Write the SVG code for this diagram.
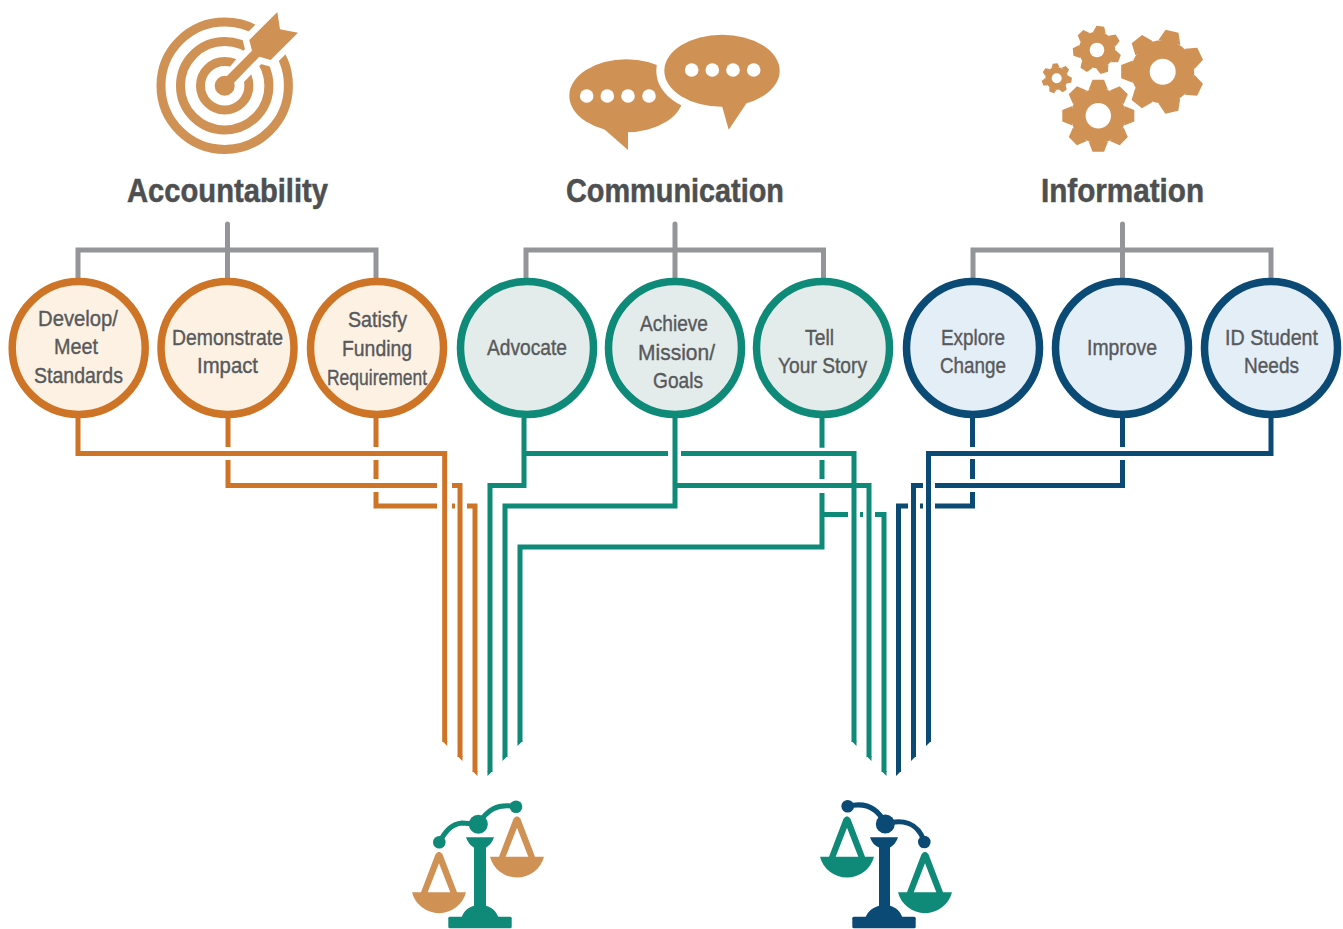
<svg xmlns="http://www.w3.org/2000/svg" xmlns:xlink="http://www.w3.org/1999/xlink" width="1343" height="929" viewBox="0 0 1343 929">
<style>
text{font-family:"Liberation Sans Narrow","Liberation Sans",Arial,sans-serif;text-anchor:middle}
.title{font-size:33px;font-weight:700;fill:#4d4f51;stroke:#4d4f51;stroke-width:.5}
.lab{font-size:22.5px;fill:#58595b;stroke:#58595b;stroke-width:.4}
.br{fill:none;stroke:#939598;stroke-width:5;stroke-linecap:round}
.c{fill:none;stroke-width:5}
.or{stroke:#ce7426}.te{stroke:#0f8a78}.bl{stroke:#0a4a75}
.n{stroke-width:7.5}
.nor{fill:#fdf1e3;stroke:#ce7426}.nte{fill:#e3ecea;stroke:#0f8a78}.nbl{fill:#e4eef7;stroke:#0a4a75}
.tan{fill:#d09155}.w{fill:#fff}
.fo{fill:#ce7426}.ft{fill:#0f8a78}.fb{fill:#0a4a75}
.ring{fill:none;stroke:#d09155;stroke-width:9}
</style>
<defs>
<path id="tooth" d="M-.27-.72L-.16-1H.16L.27-.72Z"/>
<g id="g7"><circle r=".76"/><use href="#tooth"/><use href="#tooth" transform="rotate(51.43)"/><use href="#tooth" transform="rotate(102.86)"/><use href="#tooth" transform="rotate(154.29)"/><use href="#tooth" transform="rotate(205.71)"/><use href="#tooth" transform="rotate(257.14)"/><use href="#tooth" transform="rotate(308.57)"/></g>
<g id="g8"><circle r=".76"/><use href="#tooth"/><use href="#tooth" transform="rotate(45)"/><use href="#tooth" transform="rotate(90)"/><use href="#tooth" transform="rotate(135)"/><use href="#tooth" transform="rotate(180)"/><use href="#tooth" transform="rotate(225)"/><use href="#tooth" transform="rotate(270)"/><use href="#tooth" transform="rotate(315)"/></g>
<path id="pan" d="M-27,41H27A27.9,27.9 0 0 1-27,41ZM-18,41L-3.5,3Q0-2 3.5,3L18,41H11.3L0,12L-11.3,41Z"/>
</defs>

<g id="brackets">
<path class="br" d="M227.5,224V278M78,278V250H376V278"/>
<path class="br" d="M675,224V278M526,278V250H823.5V278"/>
<path class="br" d="M1122.5,224V278M973,278V250H1271V278"/>
</g>

<g id="connectors">
<g class="c or">
<path d="M78,418V453.5H444.7V742"/>
<path d="M228,418V447M228,460V485.5H437M452,485.5H460V757"/>
<path d="M376,418V447M376,460V479M376,492V506H437M452,506H455M467,506H475V772"/>
</g>
<path class="fo" d="M442.2,741h5v5ZM457.5,756h5v5ZM472.5,771h5v5Z"/>
<g class="c te">
<path d="M524,418V485.5H490V772"/>
<path d="M524,453.5H668M681,453.5H854V742"/>
<path d="M675,418V506H505V757"/>
<path d="M675,485.5H869V757"/>
<path d="M822,418V447.7M822,460V479M822,493V547H520V742"/>
<path d="M822,514.5H848M860,514.5H863M875,514.5H884V772"/>
</g>
<path class="ft" d="M487.5,771h5l-5,5ZM502.5,756h5l-5,5ZM517.5,741h5l-5,5ZM851.5,741h5v5ZM866.5,756h5v5ZM881.5,771h5v5Z"/>
<g class="c bl">
<path d="M1271,418V453.5H928.5V742"/>
<path d="M1122.5,418V447M1122.5,460V485.5H935M923,485.5H913.5V757"/>
<path d="M972.5,418V447M972.5,459V479M972.5,492V506H935M923,506H920M908,506H898.5V772"/>
</g>
<path class="fb" d="M896,771h5l-5,5ZM911,756h5l-5,5ZM926,741h5l-5,5Z"/>
</g>

<g id="icon-target">
<circle class="ring" cx="224.7" cy="85.7" r="63.7"/>
<circle class="ring" cx="224.7" cy="85.7" r="44.2"/>
<circle class="ring" cx="224.7" cy="85.7" r="24.2"/>
<path fill="#fff" stroke="#fff" stroke-width="13" stroke-linejoin="round" d="M249.3,40L277.3,12L280,29.3L298,32.7L270.7,60L259.3,56.7L233,84L228,79L252,50.7Z"/>
<circle class="tan" cx="224.7" cy="85.7" r="10"/>
<path class="tan" d="M249.3,40L277.3,12L280,29.3L298,32.7L270.7,60L259.3,56.7L229,88L222,81L252,50.7Z"/>
</g>

<g id="icon-chat">
<ellipse class="tan" cx="626.3" cy="95.7" rx="57" ry="36.5"/>
<path class="tan" d="M604,129L628,150V130Z"/>
<ellipse class="tan" stroke="#fff" stroke-width="16" cx="722" cy="70.7" rx="57.7" ry="36"/>
<ellipse class="tan" cx="722" cy="70.7" rx="57.7" ry="36"/>
<path class="tan" d="M722,106L728.7,129.7L746.7,103Z"/>
<circle class="w" cx="586.7" cy="96" r="6.8"/><circle class="w" cx="607.3" cy="96" r="6.8"/><circle class="w" cx="628" cy="96" r="6.8"/><circle class="w" cx="649" cy="96" r="6.8"/>
<circle class="w" cx="691.7" cy="70" r="6.8"/><circle class="w" cx="712.3" cy="70" r="6.8"/><circle class="w" cx="733" cy="70" r="6.8"/><circle class="w" cx="753.7" cy="70" r="6.8"/>
</g>

<g id="icon-gears" class="tan">
<use href="#g7" transform="translate(1162.7,71.7) rotate(13) scale(41.5)"/><circle class="w" cx="1162.7" cy="71.7" r="13"/>
<use href="#g7" transform="translate(1097,50) rotate(8) scale(24)"/><circle class="w" cx="1097" cy="50" r="7.3"/>
<use href="#g7" transform="translate(1056.7,78.3) rotate(-6) scale(15)"/><circle class="w" cx="1056.7" cy="78.3" r="5"/>
<use href="#g8" transform="translate(1098.3,115.7) scale(36)"/><circle class="w" cx="1098.3" cy="115.7" r="12.7"/>
</g>

<text class="title" x="227.5" y="202" textLength="201" lengthAdjust="spacingAndGlyphs">Accountability</text>
<text class="title" x="675" y="202" textLength="218" lengthAdjust="spacingAndGlyphs">Communication</text>
<text class="title" x="1122.5" y="202" textLength="163" lengthAdjust="spacingAndGlyphs">Information</text>

<g id="n-develop"><circle class="n nor" cx="78.7" cy="348" r="66.5"/><text class="lab" x="78" y="326" textLength="80" lengthAdjust="spacingAndGlyphs">Develop/</text><text class="lab" x="76" y="354" textLength="44" lengthAdjust="spacingAndGlyphs">Meet</text><text class="lab" x="78.5" y="383" textLength="89" lengthAdjust="spacingAndGlyphs">Standards</text></g>
<g id="n-demonstrate"><circle class="n nor" cx="227.5" cy="348" r="66.5"/><text class="lab" x="227.5" y="345" textLength="111" lengthAdjust="spacingAndGlyphs">Demonstrate</text><text class="lab" x="227.5" y="373" textLength="61" lengthAdjust="spacingAndGlyphs">Impact</text></g>
<g id="n-satisfy"><circle class="n nor" cx="377" cy="348" r="66.5"/><text class="lab" x="377.5" y="327" textLength="59" lengthAdjust="spacingAndGlyphs">Satisfy</text><text class="lab" x="377" y="356" textLength="70" lengthAdjust="spacingAndGlyphs">Funding</text><text class="lab" x="377" y="385" textLength="100" lengthAdjust="spacingAndGlyphs">Requirement</text></g>
<g id="n-advocate"><circle class="n nte" cx="527" cy="348" r="66.5"/><text class="lab" x="527" y="355" textLength="80" lengthAdjust="spacingAndGlyphs">Advocate</text></g>
<g id="n-achieve"><circle class="n nte" cx="675" cy="348" r="66.5"/><text class="lab" x="674" y="331" textLength="68" lengthAdjust="spacingAndGlyphs">Achieve</text><text class="lab" x="676.5" y="360" textLength="77" lengthAdjust="spacingAndGlyphs">Mission/</text><text class="lab" x="678" y="388" textLength="50" lengthAdjust="spacingAndGlyphs">Goals</text></g>
<g id="n-tell"><circle class="n nte" cx="823" cy="348" r="66.5"/><text class="lab" x="819.5" y="345" textLength="29" lengthAdjust="spacingAndGlyphs">Tell</text><text class="lab" x="822.5" y="373" textLength="89" lengthAdjust="spacingAndGlyphs">Your Story</text></g>
<g id="n-explore"><circle class="n nbl" cx="973" cy="348" r="66.5"/><text class="lab" x="973" y="345" textLength="64" lengthAdjust="spacingAndGlyphs">Explore</text><text class="lab" x="973" y="373" textLength="66" lengthAdjust="spacingAndGlyphs">Change</text></g>
<g id="n-improve"><circle class="n nbl" cx="1122" cy="348" r="66.5"/><text class="lab" x="1122" y="355" textLength="70" lengthAdjust="spacingAndGlyphs">Improve</text></g>
<g id="n-idstudent"><circle class="n nbl" cx="1271" cy="348" r="66.5"/><text class="lab" x="1271.5" y="345" textLength="93" lengthAdjust="spacingAndGlyphs">ID Student</text><text class="lab" x="1271.5" y="373" textLength="55" lengthAdjust="spacingAndGlyphs">Needs</text></g>

<g id="scale-left">
<use href="#pan" class="tan" transform="translate(439,851.3)"/>
<use href="#pan" class="tan" transform="translate(517,815.7)"/>
<g class="ft">
<rect x="448.3" y="916.7" width="63.4" height="11.6" rx="1.5"/>
<path d="M461.7,917C464,911 468,907.5 474,905.7V847.5C471,846 468,843 466,837.3H494C492,843 489,846 486,847.5V905.7C492,907.5 496,911 498.3,917Z"/>
<circle cx="478.3" cy="824.3" r="9.5"/><circle cx="439.3" cy="842.3" r="6.3"/><circle cx="516" cy="806.7" r="6.3"/>
</g>
<path class="c te" d="M439.3,842.3C445,832 451,824 462,823L478,824.3M478.3,824.3C487,810 497,803 516,806.7"/>
</g>
<g id="scale-right">
<use href="#pan" class="ft" transform="translate(847,815.7)"/>
<use href="#pan" class="ft" transform="translate(925,851.3)"/>
<g class="fb">
<rect x="852.3" y="916.7" width="63.4" height="11.6" rx="1.5"/>
<path d="M865.7,917C868,911 873,907.5 879,905.7V847.5C875,846 872,843 870,837.3H898C896,843 893,846 890,847.5V905.7C896,907.5 900,911 902.3,917Z"/>
<circle cx="885.3" cy="824" r="9.5"/><circle cx="847.7" cy="806.3" r="6.3"/><circle cx="924.3" cy="842" r="6.3"/>
</g>
<path class="c bl" d="M847.7,806.3C865,802 878,808 885.3,824C902,819 918,822 924.3,842"/>
</g>
</svg>
